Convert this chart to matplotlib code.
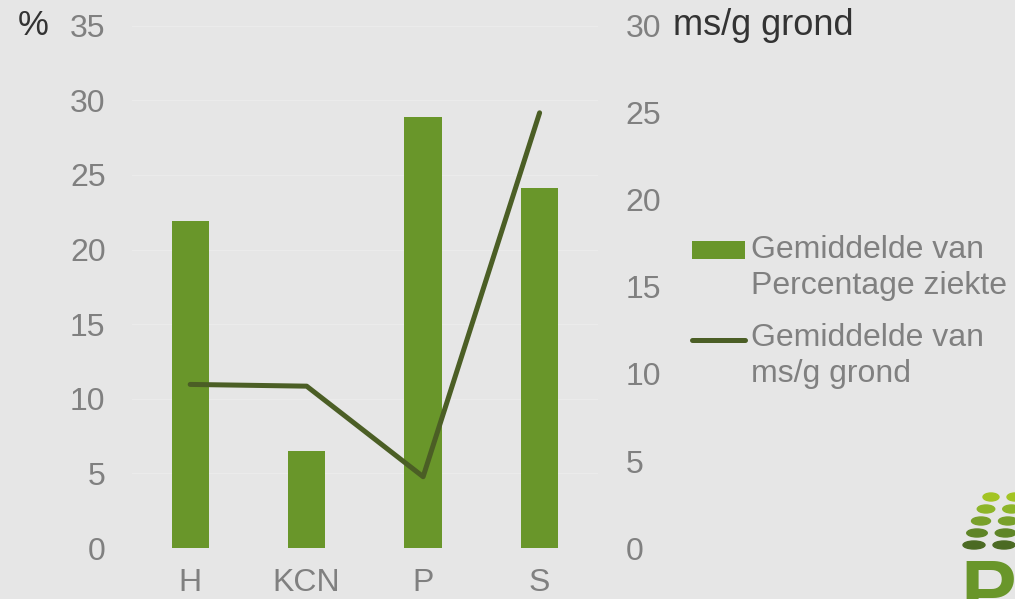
import matplotlib
matplotlib.use("Agg")
import matplotlib.pyplot as plt
from matplotlib.patches import Ellipse

plt.rcParams['font.family'] = ['Liberation Sans', 'DejaVu Sans']

# data
categories = ["H", "KCN", "P", "S"]
pct_ziekte = [21.9, 6.5, 28.9, 24.1]
ms_grond = [9.4, 9.3, 4.1, 25.0]
left_ticks = [0, 5, 10, 15, 20, 25, 30, 35]
right_ticks = [0, 5, 10, 15, 20, 25, 30]

bg = "#e6e6e6"
bar_col = "#69962a"
line_col = "#4b5e25"
txt_gray = "#808080"

fig = plt.figure(figsize=(10.15, 5.99), dpi=100, facecolor=bg)
ax = fig.add_axes([0.130, 0.085, 0.459, 0.872])
ax.set_facecolor(bg)
ax2 = ax.twinx()

x = list(range(len(categories)))
bars = ax.bar(x, pct_ziekte, width=0.32, color=bar_col, zorder=2,
              label="Gemiddelde van\nPercentage ziekte")
ln, = ax2.plot(x, ms_grond, color=line_col, lw=3.6, solid_capstyle="round",
               solid_joinstyle="round", label="Gemiddelde van\nms/g grond")

ax.set_xlim(-0.5, 3.5)
ax.set_ylim(0, 35)
ax2.set_ylim(0, 30)
ax.set_yticks(left_ticks)
ax2.set_yticks(right_ticks)
ax.set_xticks(x)
ax.set_xticklabels(categories)

ax.grid(axis="y", color="#ebebeb", lw=1, zorder=0)
for a in (ax, ax2):
    for s in a.spines.values():
        s.set_visible(False)
ax.tick_params(axis="both", length=0, labelsize=23, labelcolor=txt_gray)
ax.tick_params(axis="y", pad=19)
ax.tick_params(axis="x", pad=14)
ax2.tick_params(axis="y", length=0, labelsize=23, labelcolor=txt_gray, pad=20)

fig.text(0.017, 0.958, "%", fontsize=25, color="#333333", va="center")
fig.text(0.663, 0.958, "ms/g grond", fontsize=26, color="#333333", va="center")

leg = fig.legend(handles=[bars, ln], loc="upper left",
                 bbox_to_anchor=(0.666, 0.634), frameon=False, fontsize=23,
                 handlelength=1.65, handleheight=0.47, handletextpad=0.19,
                 labelspacing=0.7, labelcolor=txt_gray, borderpad=0)
for t in leg.get_texts():
    t.set_linespacing(1.25)
# lift the handles so they sit beside the first text line
shift = 13
h_bar, h_line = leg.legend_handles
h_bar.set_y(h_bar.get_y() + shift)
h_line.set_ydata([y + shift for y in h_line.get_ydata()])
h_line.set_solid_capstyle("round")

# logo in the corner
logo_cols = ["#a3c423", "#8db529", "#78a02a", "#5f8527", "#4b6a23"]
rows_y = [497, 509, 521, 533, 545]
rows_x = [991, 986, 981, 977, 974]
W, H = 1015.0, 599.0
for i, (yy, xx) in enumerate(zip(rows_y, rows_x)):
    for dx in (0, 24 + 1.5 * i):
        e = Ellipse(((xx + dx) / W, 1 - yy / H), (16 + 1.5 * i) / W, 8 / H,
                    transform=fig.transFigure, color=logo_cols[i])
        fig.add_artist(e)
fig.text(960 / W, -0.06, "P", fontsize=60, fontweight="bold", color=bar_col,
         va="bottom", ha="left")

fig.savefig("out.png", dpi=100, facecolor=bg)
